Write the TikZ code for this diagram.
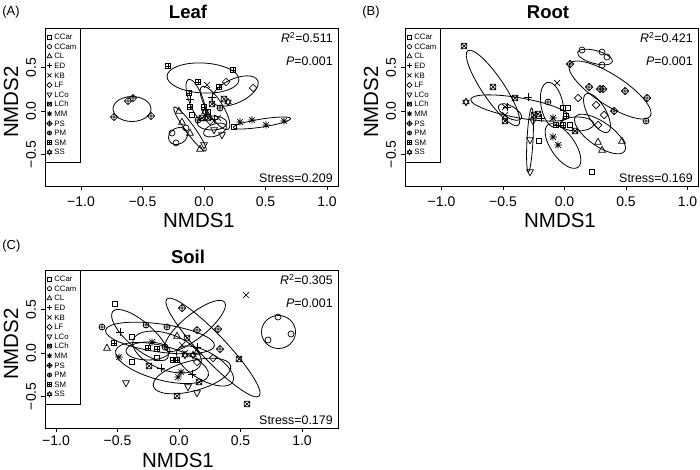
\documentclass[tikz,border=0pt]{standalone}
\usepackage{fontspec}
\setmainfont{Liberation Sans}
\tikzset{
  pics/sq/.style={code={\draw (-2.2,-2.2) rectangle (2.2,2.2);}},
  pics/ci/.style={code={\draw (0,0) circle (2.4);}},
  pics/tu/.style={code={\draw (0,-3) -- (2.7,1.8) -- (-2.7,1.8) -- cycle;}},
  pics/td/.style={code={\draw (0,3) -- (2.7,-1.8) -- (-2.7,-1.8) -- cycle;}},
  pics/pl/.style={code={\draw (-3,0) -- (3,0) (0,-3) -- (0,3);}},
  pics/cr/.style={code={\draw (-2.3,-2.3) -- (2.3,2.3) (-2.3,2.3) -- (2.3,-2.3);}},
  pics/di/.style={code={\draw (0,-3) -- (3,0) -- (0,3) -- (-3,0) -- cycle;}},
  pics/sx/.style={code={\draw (-2.2,-2.2) rectangle (2.2,2.2) (-2.2,-2.2) -- (2.2,2.2) (-2.2,2.2) -- (2.2,-2.2);}},
  pics/as/.style={code={\draw (-3,0) -- (3,0) (0,-3) -- (0,3) (-2.2,-2.2) -- (2.2,2.2) (-2.2,2.2) -- (2.2,-2.2);}},
  pics/dp/.style={code={\draw (0,-3) -- (3,0) -- (0,3) -- (-3,0) -- cycle (-3,0) -- (3,0) (0,-3) -- (0,3);}},
  pics/cp/.style={code={\draw (0,0) circle (2.4) (-2.4,0) -- (2.4,0) (0,-2.4) -- (0,2.4);}},
  pics/sp/.style={code={\draw (-2.2,-2.2) rectangle (2.2,2.2) (-2.2,0) -- (2.2,0) (0,-2.2) -- (0,2.2);}},
  pics/sd/.style={code={\draw (0,-3) -- (2.6,1.5) -- (-2.6,1.5) -- cycle (0,3) -- (2.6,-1.5) -- (-2.6,-1.5) -- cycle;}},
}
\begin{document}
\begin{tikzpicture}[x=1pt,y=-1pt,line width=0.7pt,
    every node/.style={inner sep=0pt},
    every pic/.style={scale=1.25},
    ttl/.style={font=\fontsize{18.5}{20}\selectfont\bfseries},
    plab/.style={font=\fontsize{13}{15}\selectfont, anchor=west},
    tick/.style={font=\fontsize{14}{16}\selectfont},
    axl/.style={font=\fontsize{20.5}{24}\selectfont},
    stat/.style={font=\fontsize{12.4}{14}\selectfont, anchor=east},
    legtxt/.style={font=\fontsize{7.8}{8}\selectfont, anchor=west},
    ell/.style={line width=0.8pt}]
\useasboundingbox (0,0) rectangle (700,470);
% frames, axes, legends
\foreach \dx/\dy/\lt/\ly/\tname/\ty/\rr/\st/\xo/\tky/\xl/\yl in {0/0/A/12/Leaf/12/0.511/0.209/81/201.5/199/220,
    360/0/B/12/Root/12/0.421/0.169/81.5/201.5/200/220, 0/242/C/4/Soil/14.7/0.305/0.179/56/199/178/218}{
  \begin{scope}[shift={(\dx,\dy)}]
    \node[plab] (lab\lt) at (2,\ly) {(\lt)};
    \node[ttl] (ttl\lt) at (188,\ty) {\tname};
    \draw[line width=0.9pt] (45,28) rectangle (338,186);
    \draw[line width=0.9pt] (45,28) rectangle (80,162);
    \foreach \k/\t in {0/−1.0,1/−0.5,2/0.0,3/0.5,4/1.0}{
      \draw ({\xo+61.5*\k},186) -- ++(0,4);
      \node[tick] (x\lt\k) at ({\xo+61.5*\k},\tky) {\t};
    }
    \foreach \yy/\t [count=\k] in {67.7/0.5,111/0.0,154.3/−0.5}{
      \draw (45,\yy) -- (41,\yy);
      \node[tick, rotate=90] (y\lt\k) at (31,\yy) {\t};
    }
    \node[axl] (nx\lt) at (\xl,\yl) {NMDS1};
    \node[axl, rotate=90] (ny\lt) at (11,102) {NMDS2};
    \node[stat] (r\lt) at (333,37.5) {\textit{R}\textsuperscript{2}=\rr};
    \node[stat] (p\lt) at (333,61.5) {\textit{P}=0.001};
    \node[stat] (s\lt) at (333,178.5) {Stress=\st};
    \foreach \nm/\sy [count=\i from 0] in {CCar/sq,CCam/ci,CL/tu,ED/pl,KB/cr,LF/di,LCo/td,
        LCh/sx,MM/as,PS/dp,PM/cp,SM/sp,SS/sd}{
      \pic[scale=0.7] at (49.5,{37+9.6*\i}) {\sy};
      \node[legtxt] (leg\lt\i) at (54,{37+9.6*\i}) {\nm};
    }
  \end{scope}
}
% Leaf
\foreach \x/\y/\a/\b/\r in {132/109/19/12.5/0, 203/78/36/15/-3, 235/91/25/12/25, 262/123/29/4/9,
    190/129/27/4.5/-54, 178/136/10/8/30, 196/100/7/22/20, 215/108/25/8/-58, 212/123/15/7/0,
    215/130/12/6/20}
  \draw[ell, rotate around={\r:(\x,\y)}] (\x,\y) ellipse ({\a} and {\b});
\foreach \s/\x/\y in {dp/114/117, dp/151/116, dp/128/101, dp/133/98, sp/168/66, sp/233/70,
    sp/198/82, sp/189/93, sp/204/107, sp/190/107, sp/219/87, di/226/82, di/253/88, di/210/121,
    as/240/122, as/252/120, as/266/125, as/284/121, sq/234/127, sq/192/115, sq/208/112,
    tu/179/111, tu/182/122, tu/190/133, tu/200/149, ci/172/133, ci/176/143, ci/186/128,
    sx/202/118, sx/208/118, sx/224/99, sx/212/104, td/222/135, td/214/130, td/204/145,
    pl/214/119, pl/190/99, pl/212/97, cr/207/85, cr/218/118, cp/198/120, cp/220/108,
    sd/205/112, sd/228/102}
  \pic at (\x,\y) {\s};
% Root
\foreach \x/\y/\a/\b/\r in {493/88/45/11/-56, 520/108/50/10/-10, 552/105/11/23/11,
    563/146/26/12/-55, 577/124/17/7/0, 530/140/3/32/-3, 595/57/18/6.5/-15, 610/90/48/15/-33,
    597/113/22/9/-60, 600/134/30/12/-35, 510/112/13/6/-30}
  \draw[ell, rotate around={\r:(\x,\y)}] (\x,\y) ellipse ({\a} and {\b});
\foreach \s/\x/\y in {sx/464/46, sx/493/87, sd/466/102, sx/515/98, sx/505/121, sx/538/114,
    sx/534/115, sx/575/131, ci/582/50, ci/602/52, ci/607/57, ci/602/65, dp/570/64, dp/647/98,
    dp/589/87, dp/600/89, dp/603/89, dp/625/91, dp/614/111, cp/646/121, cp/548/102,
    di/578/98, di/596/105, di/604/115, di/598/125, tu/598/142, tu/622/141, tu/602/150,
    td/530/140, td/530/172, td/533/121, sq/539/141, sq/592/172, sq/563/108, sq/568/108,
    sq/570/125, sp/563/125, sp/556/125, sp/566/116, as/553/118, as/553/137, as/558/145,
    cr/557/83, cr/505/107, cr/505/115, pl/528/97, pl/507/107, pl/541/118}
  \pic at (\x,\y) {\s};
% Soil
\foreach \x/\y/\a/\b/\r in {278.5/332/17/16.5/0, 213/347.5/67/13/-46.5, 195/326/38/12/39,
    140/335/36/13/-41, 160/338/55/14/-8, 162/363/48/17/-15, 192/376/40/15/15,
    167/352/36/18/-20, 148/351/22/9/0, 205/366/32/14/-30}
  \draw[ell, rotate around={\r:(\x,\y)}] (\x,\y) ellipse ({\a} and {\b});
\foreach \s/\x/\y in {sq/115/304, sq/132/337, sq/157/358, sq/132/362, ci/278/317, ci/291/334,
    ci/268/340, tu/107/348, tu/177/336, tu/197/352, pl/120/332, pl/161/368, pl/192/374,
    pl/197/347, cr/246/295, cr/185/353, cr/182/345, di/213/358, di/197/362, td/126/383,
    td/188/387, td/197/393, sx/247/404, sx/239/359, sx/187/338, sx/149/366, sx/199/382,
    sx/177/396, as/119/357, as/152/342, as/178/377, as/181/372, dp/182/308, dp/197/330,
    dp/218/329, dp/220/349, cp/102/327, cp/146/325, cp/167/327, cp/165/347, sp/114/343,
    sp/148/348, sp/157/349, sp/173/360, sp/177/360, sd/185/355, sd/193/355}
  \pic at (\x,\y) {\s};
\end{tikzpicture}
\end{document}
